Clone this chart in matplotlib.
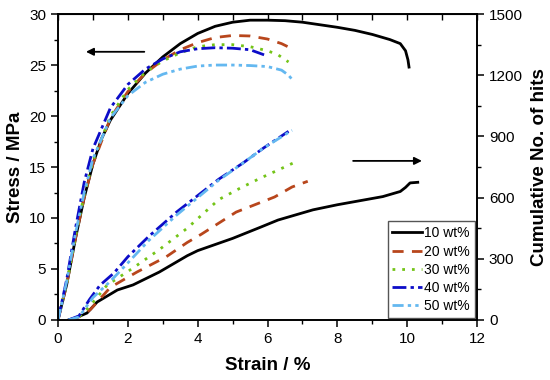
import matplotlib
matplotlib.use("Agg")
import matplotlib.pyplot as plt
import numpy as np
from matplotlib.ticker import MultipleLocator

plt.rcParams["font.family"] = ["Liberation Sans", "DejaVu Sans"]

# -- data -----------------------------------------------------------------------
labels = ["10 wt%", "20 wt%", "30 wt%", "40 wt%", "50 wt%"]

# stress-strain (left axis, MPa)
ss_strain_10 = [0, 0.25, 0.5, 0.75, 1.0, 1.25, 1.5, 2.0, 2.5, 3.0, 3.5, 4.0, 4.5, 5.0,
                5.5, 6.0, 6.5, 7.0, 7.5, 8.0, 8.5, 9.0, 9.5, 9.8, 9.95, 10.02, 10.05]
ss_stress_10 = [0, 3.5, 8.0, 12.0, 15.3, 17.8, 19.6, 22.2, 24.2, 25.8, 27.1, 28.1, 28.8, 29.2,
                29.4, 29.4, 29.35, 29.2, 28.95, 28.7, 28.4, 28.0, 27.5, 27.1, 26.4, 25.5, 24.8]
ss_strain_20 = [0, 0.25, 0.5, 0.75, 1.0, 1.5, 2.0, 2.5, 3.0, 3.5, 4.0, 4.5, 5.0, 5.5, 6.0, 6.4, 6.7]
ss_stress_20 = [0, 3.5, 8.0, 12.0, 15.3, 19.8, 22.4, 24.2, 25.5, 26.5, 27.2, 27.7, 27.9, 27.85,
                27.55, 27.1, 26.6]
ss_strain_30 = [0, 0.25, 0.5, 0.75, 1.0, 1.5, 2.0, 2.5, 3.0, 3.5, 4.0, 4.5, 5.0, 5.5, 6.0, 6.3, 6.6]
ss_stress_30 = [0, 3.6, 8.2, 12.3, 15.6, 20.0, 22.6, 24.3, 25.4, 26.2, 26.8, 27.0, 27.0, 26.8,
                26.4, 26.0, 25.3]
ss_strain_40 = [0, 0.25, 0.5, 0.75, 1.0, 1.5, 2.0, 2.5, 3.0, 3.5, 4.0, 4.5, 5.0, 5.5, 5.9]
ss_stress_40 = [0, 4.0, 9.0, 13.5, 16.8, 20.8, 23.1, 24.6, 25.6, 26.3, 26.6, 26.7, 26.65, 26.5, 26.0]
ss_strain_50 = [0, 0.25, 0.5, 0.75, 1.0, 1.5, 2.0, 2.5, 3.0, 3.5, 4.0, 4.5, 5.0, 5.5, 6.0, 6.4,
                6.6, 6.7]
ss_stress_50 = [0, 3.8, 8.5, 12.5, 15.8, 19.8, 22.0, 23.3, 24.1, 24.6, 24.9, 25.0, 25.0, 24.95,
                24.85, 24.5, 24.0, 23.6]

# cumulative AE hits (right axis)
ae_strain_10 = [0.3, 0.5, 0.83, 1.12, 1.7, 2.15, 2.9, 3.7, 4.0, 5.0, 5.8, 6.3, 7.3, 8.0, 8.65,
                9.3, 9.8, 9.95, 10.08, 10.3]
ae_hits_10 = [0, 10, 34, 88, 147, 172, 235, 315, 340, 400, 455, 490, 540, 565, 585, 605, 630,
              650, 672, 675]
ae_strain_20 = [0.35, 0.6, 0.92, 1.5, 2.26, 3.1, 3.7, 4.1, 5.1, 6.2, 6.7, 7.15]
ae_hits_20 = [0, 15, 50, 160, 235, 310, 380, 420, 529, 603, 652, 680]
ae_strain_30 = [0.35, 0.6, 0.9, 1.4, 2.15, 2.9, 3.7, 4.6, 5.2, 5.8, 6.3, 6.8]
ae_hits_30 = [0, 15, 65, 170, 255, 345, 450, 590, 645, 696, 735, 775]
ae_strain_40 = [0.3, 0.6, 0.9, 1.2, 1.6, 2.0, 2.6, 3.4, 4.0, 4.6, 5.3, 5.9, 6.6]
ae_hits_40 = [0, 20, 100, 170, 230, 310, 410, 530, 610, 690, 770, 845, 925]
ae_strain_50 = [0.3, 0.6, 1.0, 1.5, 2.0, 2.6, 3.4, 4.0, 4.6, 5.3, 5.9, 6.7]
ae_hits_50 = [0, 15, 110, 190, 280, 390, 515, 600, 685, 770, 845, 930]

colors = ["black", "#b8461c", "#74c418", "#0c0cc8", "#64b8f0"]
styles = ["-", (0, (4, 3)), (0, (1, 2.5)), (0, (5, 1.5, 1.2, 1.5)), (0, (4, 1.5, 1.2, 1.5, 1.2, 1.5))]

ss = [(ss_strain_10, ss_stress_10), (ss_strain_20, ss_stress_20), (ss_strain_30, ss_stress_30),
      (ss_strain_40, ss_stress_40), (ss_strain_50, ss_stress_50)]
ae = [(ae_strain_10, ae_hits_10), (ae_strain_20, ae_hits_20), (ae_strain_30, ae_hits_30),
      (ae_strain_40, ae_hits_40), (ae_strain_50, ae_hits_50)]

fig = plt.figure(figsize=(5.5, 3.8), dpi=100)
ax = fig.add_axes([0.1055, 0.158, 0.762, 0.805])
ax2 = ax.twinx()

for (x, y), (xa, ya), c, ls, lab in zip(ss, ae, colors, styles, labels):
    ax.plot(x, y, color=c, ls=ls, lw=2, label=lab)
    ax2.plot(xa, ya, color=c, ls=ls, lw=2)

ax.set_xlim(0, 12)
ax.set_ylim(0, 30)
ax2.set_ylim(0, 1500)

ax.xaxis.set_major_locator(MultipleLocator(2))
ax.xaxis.set_minor_locator(MultipleLocator(1))
ax.yaxis.set_major_locator(MultipleLocator(5))
ax.yaxis.set_minor_locator(MultipleLocator(2.5))
ax2.yaxis.set_major_locator(MultipleLocator(300))
ax2.yaxis.set_minor_locator(MultipleLocator(150))

for a in (ax, ax2):
    for s in a.spines.values():
        s.set_linewidth(1.2)
    a.tick_params(which="major", direction="out", length=5, width=1.1, labelsize=11)
    a.tick_params(which="minor", direction="out", length=3, width=1.0)

top = ax.secondary_xaxis("top")
top.set_xticks(np.arange(0, 13, 1))
top.tick_params(direction="in", length=4, width=1.0, labeltop=False)

ax.set_xlabel("Strain / %", fontsize=13.5, fontweight="bold", labelpad=8)
ax.set_ylabel("Stress / MPa", fontsize=13.5, fontweight="bold", labelpad=4)
ax2.set_ylabel("Cumulative No. of hits", fontsize=13.5, fontweight="bold", labelpad=6)

# direction arrows
ax.annotate("", xy=(0.72, 26.3), xytext=(2.55, 26.3),
            arrowprops=dict(arrowstyle="-|>", color="black", lw=1.3, mutation_scale=11))
ax.annotate("", xy=(10.5, 15.6), xytext=(8.37, 15.6),
            arrowprops=dict(arrowstyle="-|>", color="black", lw=1.3, mutation_scale=11))

leg = ax.legend(loc="lower right", fontsize=10, handlelength=2.1, handletextpad=0.2,
                labelspacing=0.3, borderpad=0.35, borderaxespad=0.15, fancybox=False,
                framealpha=1, edgecolor="#555555")
leg.get_frame().set_linewidth(1.0)

fig.savefig("out.png", dpi=100)
